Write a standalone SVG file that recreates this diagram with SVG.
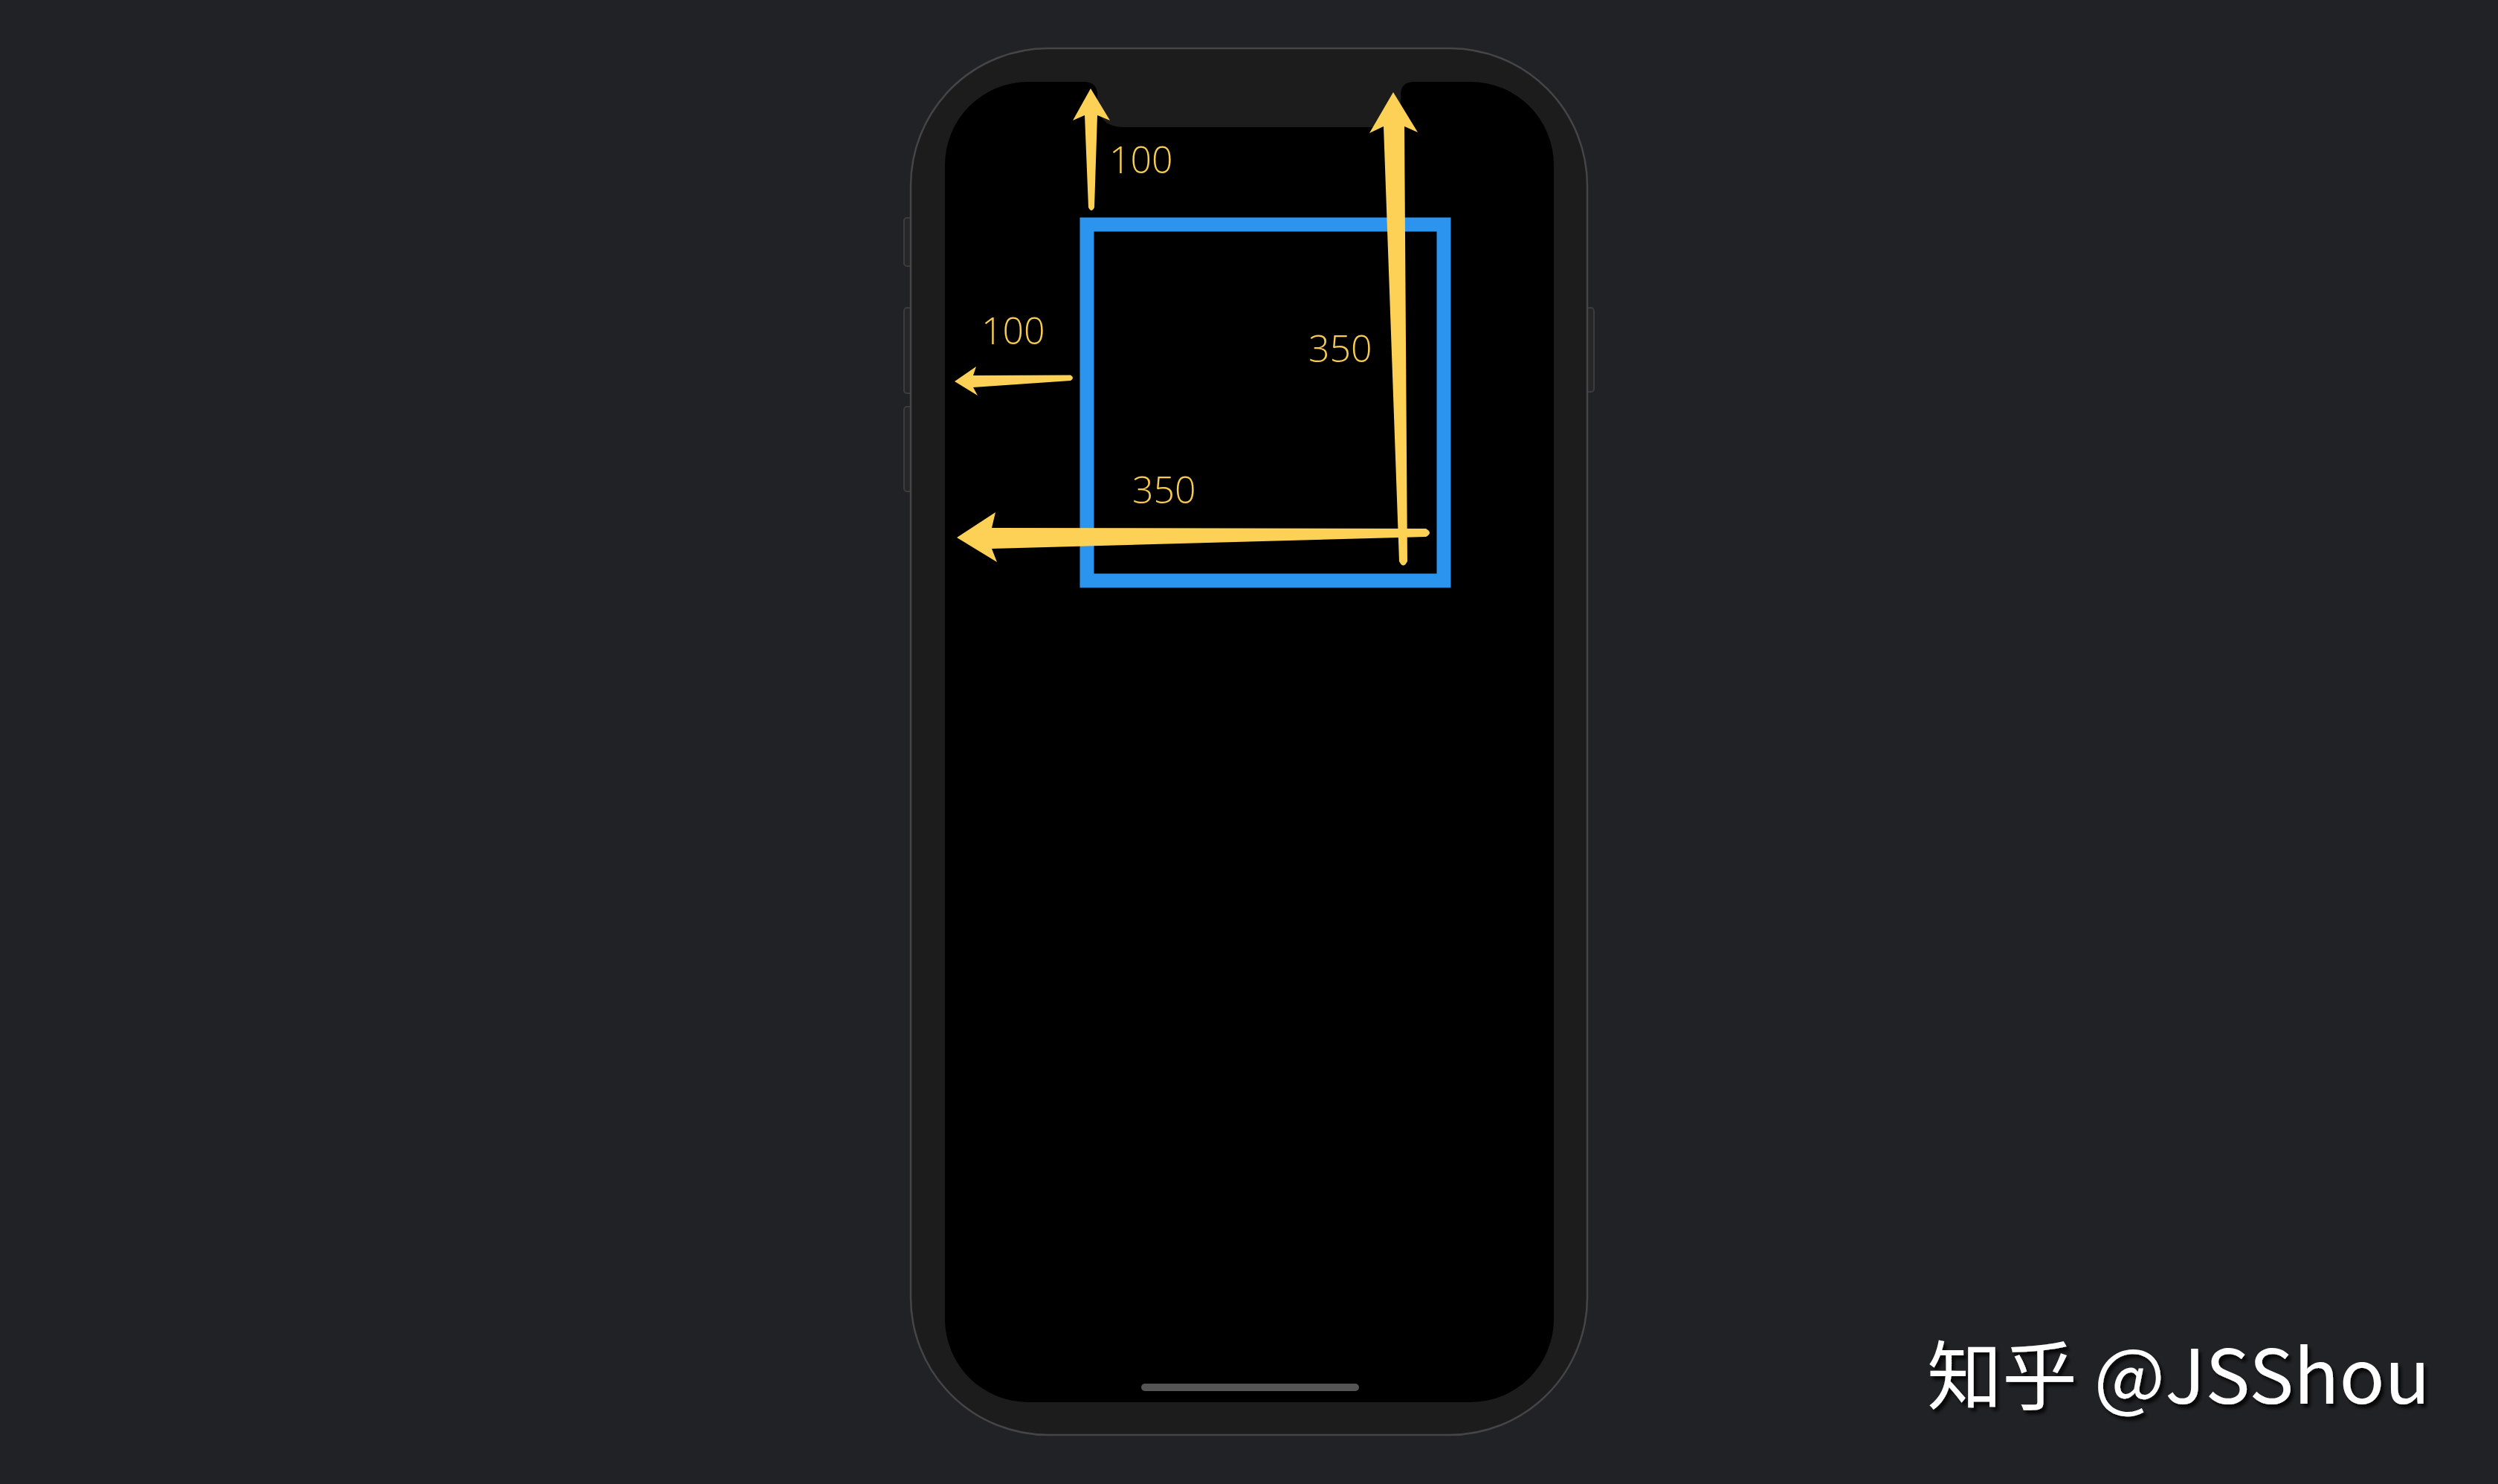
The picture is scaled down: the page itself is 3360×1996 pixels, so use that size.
<svg xmlns="http://www.w3.org/2000/svg" width="3360" height="1996" viewBox="0 0 3360 1996">
  <style>
    .lbl { font-family: "Open Sans", "Liberation Sans", sans-serif; font-weight: 300; font-size: 50px; fill: #f7cc50; }
    .btn { fill: #262626; stroke: #3c3c3e; stroke-width: 2; }
    .arrow { fill: #fdd155; }
    .wm { font-family: "Noto Sans CJK SC", "Noto Sans", sans-serif; font-size: 101px; fill: #ffffff; }
  </style>
  <defs>
    <filter id="shadow" x="-10%" y="-30%" width="120%" height="160%">
      <feDropShadow dx="4" dy="5" stdDeviation="2" flood-color="#000000" flood-opacity="0.8"/>
    </filter>
  </defs>
  <rect x="0" y="0" width="3360" height="1996" fill="#212225"/>

  <g id="phone">
    <rect class="btn" x="1216" y="293" width="12" height="65" rx="4"/>
    <rect class="btn" x="1216" y="414" width="12" height="115" rx="4"/>
    <rect class="btn" x="1216" y="547" width="12" height="114" rx="4"/>
    <rect class="btn" x="2132" y="414" width="12" height="113" rx="4"/>
    <rect x="1225" y="65" width="910" height="1865" rx="185" fill="#1c1c1c" stroke="#454547" stroke-width="2.5"/>
    <rect x="1271" y="110" width="819" height="1776" rx="112" fill="#000000"/>
    <path d="M 1458 100 L 1458 110 Q 1476 110 1476 128 L 1476 136 Q 1476 171 1512 171 L 1848 171 Q 1884 171 1884 136 L 1884 128 Q 1884 110 1902 110 L 1902 100 Z" fill="#1c1c1c"/>
    <rect x="1535" y="1861" width="293" height="10" rx="5" fill="#555555"/>
  </g>

  <g id="view">
    <rect x="1462" y="302" width="480" height="479" fill="none" stroke="#2b94ef" stroke-width="19"/>
  </g>

  <g id="connectors">
    <path class="arrow" d="M 1467 119 L 1493 162 L 1476 155 L 1472 279 Q 1468 287 1464 279 L 1459 155 L 1443 162 Z"/>
    <path class="arrow" d="M 1874 124 L 1907 178 L 1889 170 L 1893 755 Q 1887.5 766 1882 755 L 1861 170 L 1842 179 Z"/>
    <path class="arrow" d="M 1284 513 L 1313 493 L 1309 505 L 1440 504.5 Q 1446 508 1440 512 L 1309 521 L 1315 532 Z"/>
    <path class="arrow" d="M 1287 723 L 1339 689 L 1334 710 L 1918 711 Q 1928 716.5 1918 722 L 1334 738 L 1341 756 Z"/>
  </g>

  <g id="labels">
    <text class="lbl" x="1492" y="233">100</text>
    <text class="lbl" x="1320" y="463">100</text>
    <text class="lbl" x="1760" y="487">350</text>
    <text class="lbl" x="1523" y="677">350</text>
  </g>

  <g id="watermark">
    <text class="wm" x="2592" y="1888" filter="url(#shadow)">知乎 @JSShou</text>
  </g>
</svg>
